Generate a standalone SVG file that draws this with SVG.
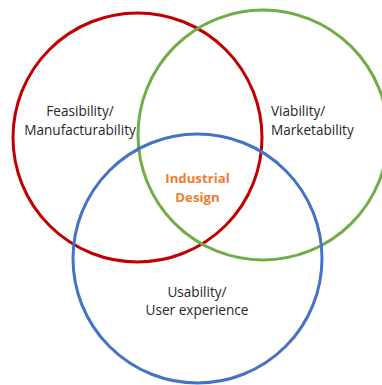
<svg xmlns="http://www.w3.org/2000/svg" width="382" height="385" viewBox="0 0 382 385">
  <style>
    .ring { fill: none; stroke-width: 3; }
    .label { font-family: "Open Sans", "Liberation Sans", sans-serif; font-size: 13.6px; fill: #262626; }
    .core { font-family: "Open Sans", "Liberation Sans", sans-serif; font-size: 13.2px; font-weight: bold; fill: #ED7D31; text-anchor: middle; }
  </style>
  <rect width="382" height="385" fill="#ffffff"/>
  <g id="feasibility">
    <circle class="ring" cx="137.5" cy="137.5" r="124.5" stroke="#C00000"/>
    <text class="label" text-anchor="middle" x="80" y="116">Feasibility/</text>
    <text class="label" text-anchor="middle" x="80" y="135">Manufacturability</text>
  </g>
  <g id="viability">
    <circle class="ring" cx="263" cy="135" r="125" stroke="#70AD47"/>
    <text class="label" x="271" y="116">Viability/</text>
    <text class="label" x="271" y="135">Marketability</text>
  </g>
  <g id="usability">
    <circle class="ring" cx="197.5" cy="258.5" r="124.5" stroke="#4472C4"/>
    <text class="label" text-anchor="middle" x="197" y="297">Usability/</text>
    <text class="label" text-anchor="middle" x="197" y="315">User experience</text>
  </g>
  <g id="industrial-design">
    <text class="core" x="197.5" y="183">Industrial</text>
    <text class="core" x="197.5" y="202">Design</text>
  </g>
</svg>
